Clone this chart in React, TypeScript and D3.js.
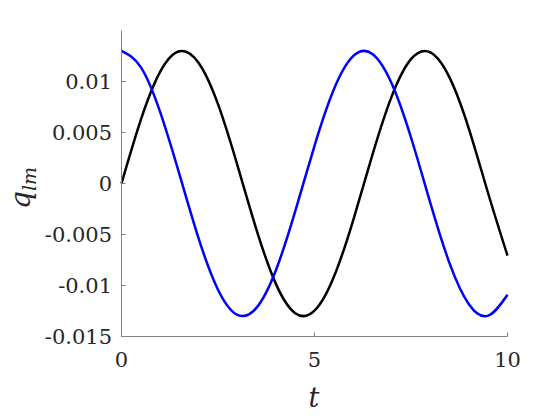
import React from "react";
import * as d3 from "d3";

const tValues = [0, 0.5, 1, 1.5, 2, 2.5, 3, 3.5, 4, 4.5, 5, 5.5, 6, 6.5, 7, 7.5, 8, 8.5, 9, 9.5, 10];
const blackSeries = [0, 0.00623, 0.01094, 0.01297, 0.01182, 0.00778, 0.00183, -0.00456, -0.00984, -0.01271, -0.01247, -0.00917, -0.00363, 0.0028, 0.00854, 0.01219, 0.01286, 0.01038, 0.00536, -0.00098, -0.00707];
const blueSeries = [0.013, 0.01141, 0.00702, 0.00092, -0.00541, -0.01041, -0.01287, -0.01217, -0.0085, -0.00274, 0.00369, 0.00921, 0.01248, 0.0127, 0.0098, 0.00451, -0.00189, -0.00783, -0.01184, -0.01296, -0.01091];
const xTicks = [0, 5, 10];
const xTickLabels = ["0", "5", "10"];
const yTicks = [-0.015, -0.01, -0.005, 0, 0.005, 0.01];
const yTickLabels = ["-0.015", "-0.01", "-0.005", "0", "0.005", "0.01"];

const FONT = "DejaVu Serif";

export default function App() {
  const x = d3.scaleLinear().domain([0, 10]).range([121.5, 507.5]);
  const y = d3.scaleLinear().domain([-0.015, 0.015]).range([336.5, 30.5]);
  const line = d3
    .line<number>()
    .x((_, i) => x(tValues[i]))
    .y((d) => y(d))
    .curve(d3.curveNatural);
  const axisColor = "#808080";
  const textColor = "#262626";
  return (
    <svg width={560} height={420} style={{ position: "absolute", left: 0, top: 0 }}>
      <rect width={560} height={420} fill="white" />
      <path d={line(blackSeries) || ""} fill="none" stroke="#000" strokeWidth={2.5} />
      <path d={line(blueSeries) || ""} fill="none" stroke="#0000ff" strokeWidth={2.5} />
      <line x1={x(0)} x2={x(0)} y1={y(0.015)} y2={y(-0.015)} stroke={axisColor} strokeWidth={1} />
      <line x1={x(0)} x2={x(10)} y1={y(-0.015)} y2={y(-0.015)} stroke={axisColor} strokeWidth={1} />
      {xTicks.map((t, i) => (
        <g key={"x" + i}>
          <line x1={x(t)} x2={x(t)} y1={y(-0.015)} y2={y(-0.015) - 4} stroke={axisColor} />
          <text x={x(t)} y={367} textAnchor="middle" fontFamily={FONT} fontSize={21} fill={textColor}>
            {xTickLabels[i]}
          </text>
        </g>
      ))}
      {yTicks.map((v, i) => (
        <g key={"y" + i}>
          <line x1={x(0)} x2={x(0) + 4} y1={y(v)} y2={y(v)} stroke={axisColor} />
          <text x={112} y={y(v) + 7.5} textAnchor="end" fontFamily={FONT} fontSize={21} fill={textColor}>
            {yTickLabels[i]}
          </text>
        </g>
      ))}
      <text x={314} y={407} textAnchor="middle" fontFamily={FONT} fontStyle="italic" fontSize={27} fill={textColor}>
        t
      </text>
      <text
        transform={`translate(30, 188) rotate(-90)`}
        textAnchor="middle"
        fontFamily={FONT}
        fontStyle="italic"
        fontSize={28}
        fill={textColor}
      >
        q<tspan fontSize={19} dy={6}>lm</tspan>
      </text>
    </svg>
  );
}
